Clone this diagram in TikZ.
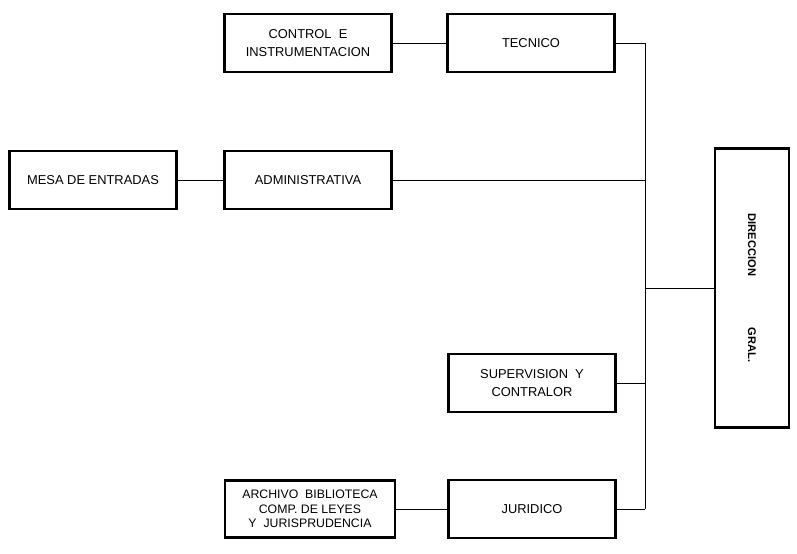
\documentclass[tikz,border=0pt]{standalone}
\usepackage{fontspec}
\setmainfont{Liberation Sans}
\begin{document}
\begin{tikzpicture}[x=0.03cm,y=-0.03cm,
		caja/.style={draw,line width=2.2pt,minimum width=5cm,minimum height=1.75cm,align=center,font=\fontsize{11}{15}\selectfont},
		linea/.style={line width=0.8pt}]
		\useasboundingbox (0,0) rectangle (797,553);
		
		\node[caja] (control) at (308,43) {CONTROL\ \ E\\INSTRUMENTACION};
		\node[caja] (tecnico) at (531,43) {TECNICO};
		\node[caja] (mesa) at (93,180) {MESA DE ENTRADAS};
		\node[caja] (admin) at (308,180) {ADMINISTRATIVA};
		\node[caja] (super) at (532,383) {SUPERVISION\ \ Y\\CONTRALOR};
		\node[caja,minimum width=5.1cm,minimum height=1.7cm,font=\fontsize{10.5}{12.5}\selectfont] (archivo) at (310,509) {ARCHIVO\ \ BIBLIOTECA\\COMP. DE LEYES\\Y\ \ JURISPRUDENCIA};
		\node[caja] (juridico) at (532,509) {JURIDICO};
		\node[caja,rotate=-90,minimum width=8.37cm,minimum height=2.22cm,font=\bfseries\fontsize{9.5}{11}\selectfont] (dir) at (752,288) {DIRECCION\hspace{44pt}GRAL.};
		
		\coordinate (bus) at (645,0);
		
		\draw[linea] (control) -- (tecnico);
		\draw[linea] (mesa) -- (admin);
		\draw[linea] (archivo) -- (juridico);
		
		\draw[linea] (tecnico) -- (tecnico -| bus);
		\draw[linea] (tecnico -| bus) -- (juridico -| bus);
		\draw[linea] (admin) -- (admin -| bus);
		\draw[linea] (super) -- (super -| bus);
		\draw[linea] (juridico) -- (juridico -| bus);
		\draw[linea] (dir) -- (dir -| bus);
	\end{tikzpicture}
\end{document}
